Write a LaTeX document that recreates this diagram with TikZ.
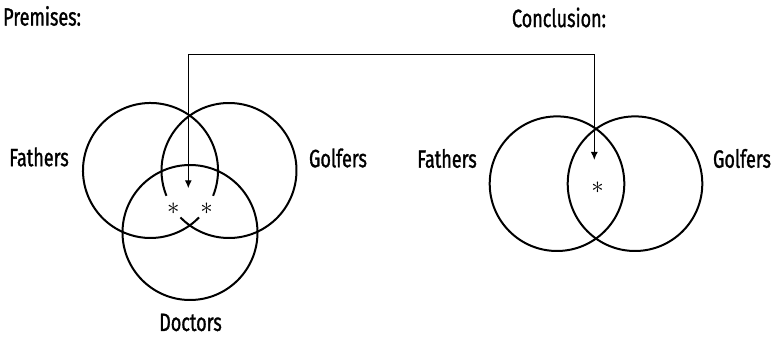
\documentclass[tikz,border=0pt]{standalone}
\usepackage{fontspec}
\newfontfamily\labfont[FakeStretch=0.72,FakeBold=1.2]{Fira Sans}
\usetikzlibrary{arrows.meta}
\begin{document}
\begin{tikzpicture}[x=1pt,y=1pt,
  circ/.style={line width=2pt},
  lab/.style={inner sep=0pt,font=\labfont\fontsize{25}{25}\selectfont},
  star/.style={inner sep=0pt,font=\fontsize{28}{28}\selectfont},
  conn/.style={line width=1.3pt,{Latex[length=8pt,width=7pt]}-{Latex[length=8pt,width=7pt]}}]
\useasboundingbox (0,0) rectangle (773,337);
% labels
\node[lab,anchor=west] (prem) at (3,321) {Premises:};
\node[lab] (concl) at (559,319.5) {Conclusion:};
\node[lab] (fathL) at (39,180) {Fathers};
\node[lab] (golfL) at (338,179) {Golfers};
\node[lab] (docL) at (190.5,14.5) {Doctors};
\node[lab] (fathR) at (447,178.5) {Fathers};
\node[lab] (golfR) at (742,178.5) {Golfers};
% left Venn
\coordinate (cF) at (150.5,166.5);
\coordinate (cG) at (229,166.5);
\coordinate (cD) at (190,104.5);
\draw[circ] (cF) ++(-22:67.5) arc[start angle=-22,end angle=316,radius=67.5];
\draw[circ] (cG) ++(224:67.5) arc[start angle=224,end angle=562,radius=67.5];
\draw[circ] (cD) circle[radius=67.5];
% right Venn
\draw[circ] (557,153.3) circle[radius=67.3];
\draw[circ] (635,153.3) circle[radius=67.3];
% asterisks
\node[star] (s1) at (173.3,128.7) {$\ast$};
\node[star] (s2) at (206.7,128.7) {$\ast$};
\node[star] (s3) at (597.7,149) {$\ast$};
% connector
\coordinate (tipL) at (188.3,148.7);
\coordinate (tipR) at (594.3,177);
\draw[conn] (tipL) -- (188.3,282.7) -| (tipR);
\end{tikzpicture}
\end{document}
